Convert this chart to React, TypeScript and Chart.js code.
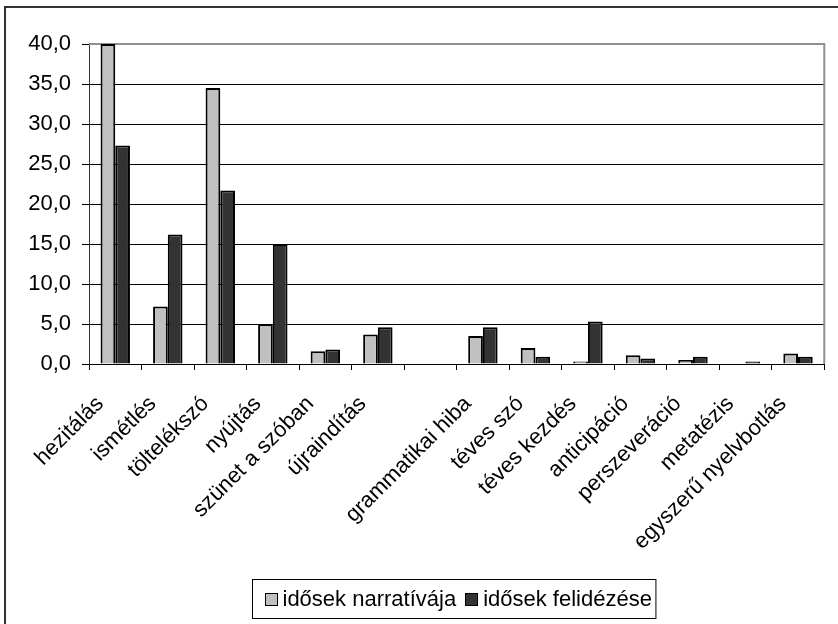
import React, { useEffect, useRef } from "react";
import { Chart, registerables } from "chart.js";

Chart.register(...registerables);

// Disfluency categories (the empty entry is the gap between the two groups)
const categories = [
  "hezitálás",
  "ismétlés",
  "töltelékszó",
  "nyújtás",
  "szünet a szóban",
  "újraindítás",
  "",
  "grammatikai hiba",
  "téves szó",
  "téves kezdés",
  "anticipáció",
  "perszeveráció",
  "metatézis",
  "egyszerű nyelvbotlás",
];

const seriesLabels = ["idősek narratívája", "idősek felidézése"];

const narrativaValues = [40.0, 7.2, 34.5, 5.0, 1.6, 3.7, null, 3.5, 2.0, 0.3, 1.1, 0.5, 0, 1.3];
const felidezesValues = [27.3, 16.2, 21.7, 15.0, 1.8, 4.6, null, 4.6, 0.9, 5.3, 0.7, 0.9, 0.3, 0.9];

const yTickValues = [0, 5, 10, 15, 20, 25, 30, 35, 40];

const FONT = '"Liberation Sans", Arial, Helvetica, sans-serif';

const formatTick = (v: number) => v.toFixed(1).replace(".", ",");

// Outer frame, plot-area border and the boxed legend
const decorPlugin = {
  id: "decor",
  beforeDatasetsDraw(chart: any) {
    const { ctx, chartArea: a } = chart;
    ctx.save();
    ctx.strokeStyle = "#8f8f8f";
    ctx.lineWidth = 2;
    ctx.beginPath();
    ctx.moveTo(a.left, a.top);
    ctx.lineTo(a.right, a.top);
    ctx.lineTo(a.right, a.bottom);
    ctx.stroke();
    ctx.restore();
  },
  afterDraw(chart: any) {
    const { ctx } = chart;
    ctx.save();
    // frame around the whole chart
    ctx.strokeStyle = "#333";
    ctx.lineWidth = 2;
    ctx.beginPath();
    ctx.moveTo(5, chart.height + 10);
    ctx.lineTo(5, 7);
    ctx.lineTo(chart.width + 10, 7);
    ctx.stroke();

    // legend
    ctx.font = `22px ${FONT}`;
    const ds = chart.data.datasets;
    const sq = 12;
    const gapSq = 6;
    const gapItem = 9;
    const padL = 12;
    const padR = 4;
    const widths = ds.map((d: any) => ctx.measureText(d.label).width);
    let total = padL + padR;
    widths.forEach((w: number, i: number) => {
      total += sq + gapSq + w + (i < widths.length - 1 ? gapItem : 0);
    });
    const cx = 454;
    const left = Math.round(cx - total / 2) + 0.5;
    const top = 579.5;
    const h = 39;
    ctx.lineWidth = 1;
    ctx.strokeStyle = "#000";
    ctx.fillStyle = "#fff";
    ctx.fillRect(left, top, total, h);
    ctx.strokeRect(left, top, total, h);
    let x = left + padL;
    const mid = top + h / 2;
    ds.forEach((d: any, i: number) => {
      const sx = Math.round(x) + 0.5;
      const sy = Math.round(mid - sq / 2) + 0.5;
      ctx.fillStyle = d.backgroundColor;
      ctx.fillRect(sx, sy, sq, sq);
      ctx.strokeStyle = "#000";
      ctx.strokeRect(sx, sy, sq, sq);
      x += sq + gapSq;
      ctx.fillStyle = "#000";
      ctx.textBaseline = "middle";
      ctx.textAlign = "left";
      ctx.fillText(d.label, x, mid + 1);
      x += widths[i] + gapItem;
    });
    ctx.restore();
  },
};

export default function App() {
  const canvasRef = useRef<HTMLCanvasElement | null>(null);

  useEffect(() => {
    if (!canvasRef.current) return;
    const chart = new Chart(canvasRef.current, {
      type: "bar",
      data: {
        labels: categories,
        datasets: [
          {
            label: seriesLabels[0],
            data: narrativaValues,
            backgroundColor: "#c0c0c0",
            borderColor: "#000",
            borderWidth: 2,
            borderSkipped: "bottom",
          },
          {
            label: seriesLabels[1],
            data: felidezesValues,
            backgroundColor: "#333333",
            borderColor: "#000",
            borderWidth: 2,
            borderSkipped: "bottom",
          },
        ],
      },
      options: {
        animation: false,
        responsive: true,
        maintainAspectRatio: false,
        layout: { padding: { top: 44, right: 9, bottom: 60, left: 0 } },
        datasets: {
          bar: { categoryPercentage: 0.56, barPercentage: 1 },
        },
        plugins: {
          legend: { display: false },
          tooltip: { enabled: false },
          title: { display: false },
        },
        scales: {
          x: {
            offset: true,
            grid: {
              offset: true,
              drawOnChartArea: false,
              drawTicks: true,
              tickLength: 6,
              tickColor: "#000",
            },
            border: { display: true, color: "#000", width: 1 },
            ticks: {
              autoSkip: false,
              maxRotation: 45,
              minRotation: 45,
              padding: 21,
              labelOffset: -15,
              color: "#000",
              font: { family: FONT, size: 22 },
            },
            afterFit: (scale: any) => {
              scale.height = 200;
            },
          },
          y: {
            min: 0,
            max: 40,
            afterBuildTicks: (scale: any) => {
              scale.ticks = yTickValues.map((v) => ({ value: v }));
            },
            grid: {
              color: "#000",
              tickColor: "#000",
              tickLength: 7,
              lineWidth: 1,
            },
            border: { display: true, color: "#333", width: 1 },
            ticks: {
              padding: 11,
              color: "#000",
              font: { family: FONT, size: 22 },
              callback: (v: any) => formatTick(Number(v)),
            },
            afterFit: (scale: any) => {
              scale.width = 89;
            },
          },
        },
      },
      plugins: [decorPlugin],
    });
    return () => chart.destroy();
  }, []);

  return (
    <div
      style={{
        position: "fixed",
        left: 0,
        top: 0,
        width: 838,
        height: 624,
        background: "#fff",
        overflow: "hidden",
      }}
    >
      <canvas ref={canvasRef} style={{ display: "block" }} />
    </div>
  );
}
